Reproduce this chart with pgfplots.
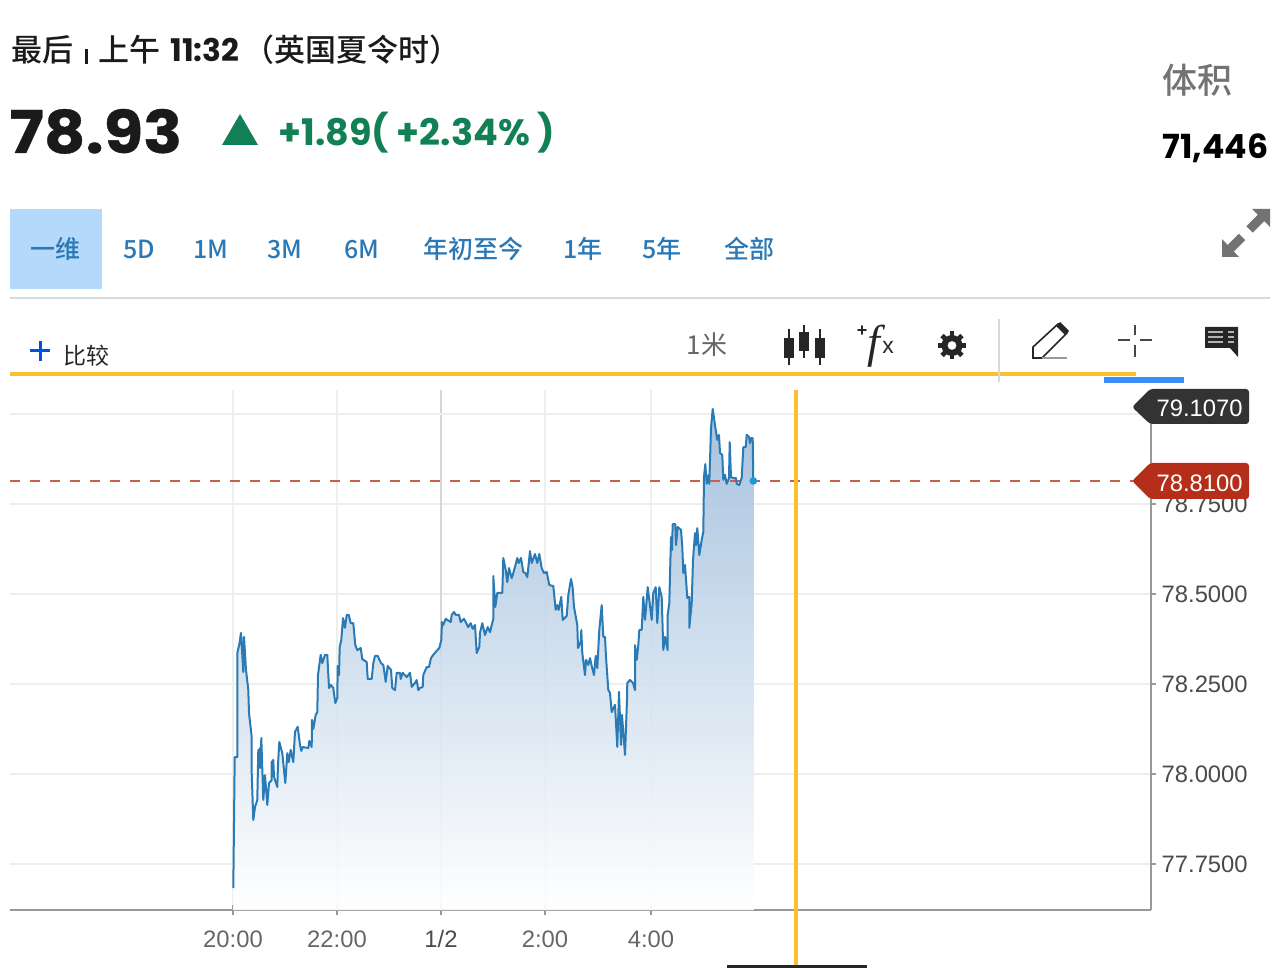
\documentclass[border=0pt]{standalone}
\usepackage{fontspec}
\usepackage{pgfplots}
\usepackage{pgfplotstable}
\pgfplotsset{compat=1.18}
\setmainfont{Liberation Sans}
\newfontfamily\cjk{Noto Sans CJK SC}[BoldFont={Noto Sans CJK SC Medium}]
\newfontfamily\head{Poppins}
\newfontfamily\headx{Poppins}[BoldFeatures={FakeStretch=1.09,FakeBold=0.6}]
\definecolor{linec}{HTML}{2A7AB5}
\definecolor{topc}{HTML}{9DBCDB}
\definecolor{gridc}{HTML}{EEEEEE}
\definecolor{midgrid}{HTML}{D6D6D6}
\definecolor{axisc}{HTML}{999999}
\definecolor{ticktxt}{HTML}{4A4A4A}
\definecolor{timetxt}{HTML}{666666}
\definecolor{lastred}{HTML}{B52E19}
\definecolor{dashred}{HTML}{C8604F}
\definecolor{darktag}{HTML}{333333}
\definecolor{upgreen}{HTML}{128055}
\definecolor{tabblue}{HTML}{2A78B5}
\definecolor{tabsel}{HTML}{B5D9FB}
\definecolor{gold}{HTML}{FBC02D}
\definecolor{barblue}{HTML}{3D8EF8}
\definecolor{icon}{HTML}{262626}
\definecolor{headtxt}{HTML}{1A1A1A}
\definecolor{dotc}{HTML}{1A9BD7}
% x = steps of 1/52 h from 20:00, y = price
\pgfplotstableread{
x y
0.3 77.683
1.7 78.047
4.3 78.047
4.3 78.336
6.3 78.360
8 78.392
10.3 78.283
11 78.381
13 78.289
15.3 78.233
16 78.169
18.7 78.103
18.7 78.003
20.3 77.872
22 77.908
24.3 77.928
25.3 78.067
26 78.017
27 78.072
27.6 78.017
28.3 78.100
30.3 77.928
32 77.997
34.3 77.914
36 77.975
38.7 77.983
38.7 78.033
40.3 78.039
41 77.992
44.3 77.964
45 78.025
46.3 78.089
49.3 78.058
52.3 77.975
54.3 78.058
55.7 78.033
57.7 78.067
60.3 78.033
62 78.117
64.7 78.131
67 78.081
68.3 78.064
69.7 78.075
75.3 78.072
76.3 78.092
78.7 78.075
79 78.150
80.3 78.125
82.7 78.164
84.3 78.172
85 78.275
87.7 78.331
89.3 78.308
92 78.331
94.3 78.331
96 78.239
98 78.247
100.3 78.239
102.3 78.197
104.3 78.211
104.7 78.300
106 78.275
106.7 78.353
108.3 78.372
110 78.433
112 78.406
113.7 78.442
115.7 78.442
117.7 78.419
120.3 78.419
122.3 78.358
124.3 78.344
127.7 78.350
129.3 78.319
133.7 78.311
134.7 78.264
138.7 78.264
140.3 78.308
142 78.328
144.7 78.328
148 78.308
150.3 78.303
152.7 78.256
154.7 78.300
158 78.289
159.3 78.239
162 78.233
163.7 78.281
167 78.281
167.7 78.264
169.7 78.281
173.7 78.269
177 78.281
178.7 78.242
182 78.253
183.7 78.261
185.3 78.233
187 78.239
189.7 78.242
190.3 78.275
193.7 78.297
196 78.297
198 78.322
200.3 78.331
203.7 78.342
206.3 78.350
208.3 78.372
209 78.422
210.3 78.414
212.7 78.431
217.7 78.422
218.7 78.442
221 78.450
222.7 78.442
226 78.442
227.7 78.422
231 78.431
232.7 78.422
235.3 78.408
237.7 78.419
239.7 78.403
242 78.414
243.7 78.336
246.3 78.353
247 78.392
249.3 78.419
252 78.386
254.7 78.408
257 78.394
260.3 78.431
260.3 78.550
262.3 78.464
264.3 78.503
269.3 78.503
270.3 78.600
272.7 78.567
274.3 78.533
276 78.572
278.7 78.544
280.3 78.558
283 78.586
284.3 78.600
285.7 78.586
288 78.600
290.3 78.561
292.3 78.558
294.3 78.547
297 78.619
298.7 78.586
302 78.611
304.3 78.586
306.3 78.611
308.7 78.572
311 78.558
313.7 78.561
316.3 78.525
320.3 78.522
322.7 78.456
324.3 78.469
325.7 78.456
328.3 78.492
329.7 78.428
333.7 78.439
335.3 78.497
338 78.542
339.7 78.517
341 78.464
344.3 78.414
345 78.350
347.7 78.367
348.3 78.400
349.3 78.336
352 78.275
353 78.317
355.3 78.303
357 78.322
358.7 78.300
361 78.275
362.7 78.328
364.3 78.294
366.3 78.400
368.7 78.469
370.3 78.381
372 78.381
373 78.325
375.3 78.233
377 78.225
378.7 78.172
382 78.192
384.3 78.075
386 78.228
388 78.081
389 78.164
392 78.053
394 78.206
394.3 78.253
397 78.261
400 78.253
402 78.233
402 78.358
403.7 78.317
405.3 78.358
406.3 78.400
408.7 78.400
410.3 78.492
412 78.428
413.7 78.483
414.7 78.519
416.3 78.483
418.7 78.428
420.3 78.503
422.7 78.519
424.3 78.419
426.3 78.519
428.7 78.492
430.3 78.344
432 78.381
434.7 78.344
434.7 78.442
436.3 78.475
438 78.658
439 78.622
439.7 78.694
442.3 78.694
443 78.636
444.7 78.686
448 78.678
449.3 78.631
450.3 78.558
452 78.581
454.3 78.489
456.3 78.492
456.3 78.406
458.7 78.475
460 78.594
462 78.669
463 78.636
464.3 78.683
466.3 78.608
468.7 78.650
470.3 78.672
471 78.825
472.3 78.861
473.7 78.806
475.7 78.831
476.3 78.806
478 78.961
479.7 79.014
482 78.969
484.3 78.928
486 78.942
487 78.892
489.3 78.886
490.3 78.817
492 78.831
493.7 78.806
496 78.822
496.7 78.922
498 78.825
500.3 78.822
503 78.822
503.7 78.806
506.3 78.803
508.7 78.822
510.3 78.908
512.7 78.908
513.7 78.942
516 78.936
517 78.919
518 78.933
519.7 78.933
520.3 78.814
}\pricedata
\begin{document}
\begin{tikzpicture}[x=0.5pt,y=-0.5pt]
\path[use as bounding box] (0,0) rectangle (1276,968);
\begin{axis}[
  at={(5pt,-455pt)},anchor=south west,
  x=0.5pt,y=180pt,
  xmin=-223,xmax=918,
  ymin=77.6222,ymax=79.0667,
  axis x line=bottom,axis y line=right,
  axis line style={-,draw=axisc,line width=0.8pt},
  xtick={0,104,312,418},
  xticklabels={20:00,22:00,2:00,4:00},
  extra x ticks={208},extra x tick labels={1/2},
  extra x tick style={grid style={midgrid,line width=1pt},xticklabel style={text=ticktxt}},
  ytick={77.75,78,78.25,78.5,78.75},
  extra y ticks={79},extra y tick labels={},
  grid=both,
  grid style={gridc,line width=1pt},
  minor tick num=0,
  tick style={axisc,line width=0.8pt},
  major tick length=5pt,
  y tick style={dash pattern=on 3pt off 6pt},
  /pgf/number format/assume math mode=true,
  yticklabel style={/pgf/number format/fixed,/pgf/number format/fixed zerofill,/pgf/number format/precision=4,
    /pgf/number format/1000 sep={},font=\fontsize{11.9}{13}\selectfont,text=ticktxt,anchor=west,xshift=-0.7pt},
  xticklabel style={font=\fontsize{11.9}{13}\selectfont,text=timetxt,text height=9pt,text depth=0pt,yshift=-3.5pt},
  scaled y ticks=false,
]
\addplot[draw=none,top color=topc,bottom color=white,fill opacity=0.9] table[x=x,y=y] {\pricedata} \closedcycle;
\addplot[dashred,line width=0.9pt,dash pattern=on 5pt off 5pt] coordinates {(-223,78.814) (902,78.814)};
\addplot[linec,line width=1pt,line join=round] table[x=x,y=y] {\pricedata};
\addplot[only marks,mark=*,mark size=1.7pt,mark options={fill=dotc,draw=dotc}] coordinates {(520.3,78.814)};
\end{axis}
% price tags on the right
\fill[darktag,rounded corners=1.5pt] (1132,407) -- (1150,389) -- (1249,389) -- (1249,424) -- (1150,424) -- cycle;
\fill[lastred,rounded corners=1.5pt] (1132,481) -- (1150,463) -- (1249,463) -- (1249,499) -- (1150,499) -- cycle;
\node[anchor=east,text=white,inner sep=0,font=\fontsize{11.9}{13}\selectfont] at (1243,408.5) {79.1070};
\node[anchor=east,text=white,inner sep=0,font=\fontsize{11.9}{13}\selectfont] at (1243,483) {78.8100};
% vertical crosshair
\fill[gold] (794,390) rectangle (798,968);
\fill[icon] (727,965) rectangle (867,968);
% header
\node[anchor=base west,inner sep=0,font=\cjk\fontsize{15.5}{18}\selectfont\bfseries,text=headtxt] at (11,61.5) {最后};
\fill[headtxt] (85,49) rectangle (87.5,64);
\node[anchor=base west,inner sep=0,font=\cjk\fontsize{15.5}{18}\selectfont\bfseries,text=headtxt] at (98,61.5) {上午};
\node[anchor=base west,inner sep=0,font=\head\fontsize{15.6}{18}\selectfont\bfseries,text=headtxt] at (170,61.5) {11:32};
\node[anchor=base west,inner sep=0,font=\cjk\fontsize{15.5}{18}\selectfont\bfseries,text=headtxt] at (243,61.5) {（英国夏令时）};
\node[anchor=base west,inner sep=0,font=\headx\fontsize{29.5}{34}\selectfont\bfseries,text=headtxt] at (9,153) {78.93};
\fill[upgreen] (222,145) -- (258,145) -- (240,114) -- cycle;
\node[anchor=base west,inner sep=0,font=\head\fontsize{18.3}{20}\selectfont\bfseries,text=upgreen] at (278,146) {+1.89( +2.34\% )};
\node[anchor=base west,inner sep=0,font=\cjk\fontsize{17.5}{20}\selectfont\bfseries,text=black!55] at (1162,94) {体积};
\node[anchor=base east,inner sep=0,font=\head\fontsize{16.6}{20}\selectfont\bfseries,text=black] at (1269,159) {71,446};
% period tabs
\fill[tabsel] (10,209) rectangle (102,289);
\foreach \xx/\tt in {56/一维,139/5D,211/1M,285/3M,362/6M,473/年初至今,583/1年,662/5年,749/全部}
  \node[inner sep=0,anchor=base,font=\cjk\fontsize{12.5}{14}\selectfont\bfseries,text=tabblue] at (\xx,259) {\tt};
\draw[black!15,line width=0.7pt] (10,298) -- (1270,298);
% expand icon
\fill[black!55] (1252,209) -- (1270,209) -- (1270,227) -- cycle;
\fill[black!55] (1222,239) -- (1222,257) -- (1239,257) -- cycle;
\draw[black!55,line width=4.5pt] (1262,217) -- (1249.5,229.5) (1230,249) -- (1242,237);
% toolbar
\draw[blue!65!cyan!90!black,line width=1.5pt] (30,351) -- (50,351) (40,341) -- (40,361);
\node[inner sep=0,anchor=base west,font=\cjk\fontsize{11.5}{14}\selectfont,text=icon] at (63,365) {比较};
\fill[gold] (10,372) rectangle (1136,376);
\fill[barblue] (1104,377) rectangle (1184,383);
\draw[black!15,line width=0.7pt] (999,319) -- (999,382);
\node[inner sep=0,anchor=base,font=\cjk\fontsize{13}{15}\selectfont,text=black!60] at (707,355) {1米};
% candle icon
\foreach \cx/\ca/\cb/\ct/\cbt in {789/329/365/338/358,804/325/358/332/351,820/329/365/338/358}{
  \draw[icon,line width=0.7pt] (\cx,\ca) -- (\cx,\cb);
  \fill[icon] (\cx-5,\ct) rectangle (\cx+5,\cbt);}
\node[inner sep=0,text=icon] at (877,346) {\fontspec{Liberation Serif}\fontsize{23}{23}\selectfont\textit{f}};
\node[inner sep=0,font=\fontsize{11.5}{11}\selectfont,text=icon] at (888,347) {x};
\node[inner sep=0,font=\fontsize{9}{9}\selectfont\bfseries,text=icon] at (862,331) {+};
% gear icon
\fill[icon,even odd rule] (952,345.5) circle (10.5) (952,345.5) circle (4.5);
\foreach \ang in {0,45,...,315}
  \draw[icon,line width=2.4pt] (952,345.5) ++(\ang:-9.5) -- ++(\ang:-4.5);
% pencil
\draw[icon,line width=0.8pt] (1033,358) -- (1033,347) -- (1058,324) -- (1067,333) -- (1042,358) -- cycle;
\fill[icon] (1056,326) -- (1060,322) -- (1069,331) -- (1065,335) -- cycle;
\draw[black!40,line width=0.8pt] (1042,358) -- (1067,358);
% crosshair
\draw[icon!85,line width=0.7pt] (1118,340) -- (1130,340) (1140,340) -- (1152,340) (1135,325) -- (1135,335) (1135,345) -- (1135,357);
% comment
\fill[icon] (1205,327) -- (1238,327) -- (1238,357) -- (1230,348) -- (1205,348) -- cycle;
\foreach \ly in {332,337,342} \draw[black!30,line width=0.7pt] (1208,\ly) -- (1223,\ly) (1228,\ly) -- (1234,\ly);
\end{tikzpicture}
\end{document}
